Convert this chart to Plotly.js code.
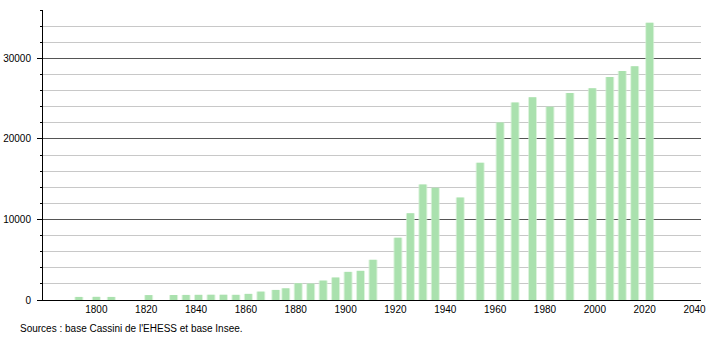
<!DOCTYPE html>
<html>
<head>
<meta charset="utf-8">
<script src="https://cdn.plot.ly/plotly-3.0.1.min.js"></script>
<style>
html,body{margin:0;padding:0;background:#fff;}
#chart{width:710px;height:340px;}
</style>
</head>
<body>
<div id="chart"></div>
<script>
const years = [1793,1800,1806,1821,1831,1836,1841,1846,1851,1856,1861,1866,1872,1876,1881,1886,1891,1896,1901,1906,1911,1921,1926,1931,1936,1946,1954,1962,1968,1975,1982,1990,1999,2006,2011,2016,2022];
const population = [380,390,380,610,620,630,640,650,650,640,760,1040,1250,1450,2080,2040,2410,2790,3490,3620,4990,7730,10770,14340,13930,12720,17050,22040,24530,25160,23990,25700,26280,27690,28440,29025,34430];
const xTicks = [1800,1820,1840,1860,1880,1900,1920,1940,1960,1980,2000,2020,2040];
const yTicks = [0,10000,20000,30000];
const sourceText = "Sources : base Cassini de l'EHESS et base Insee.";

const font = 'Liberation Sans, Arial, sans-serif';

const traces = [
  {
    type: 'bar',
    x: years,
    y: population,
    width: 3.6,
    marker: {color: 'rgba(205,238,205,0.7)', line: {width: 0}},
    hoverinfo: 'skip'
  },
  {
    type: 'bar',
    x: years,
    y: population,
    width: 2.8,
    marker: {color: 'rgb(170,225,174)', line: {width: 0}}
  }
];

const layout = {
  width: 710,
  height: 340,
  margin: {l: 43, r: 9, t: 10, b: 40},
  paper_bgcolor: '#fff',
  plot_bgcolor: '#fff',
  showlegend: false,
  barmode: 'overlay',
  font: {family: font, size: 10, color: '#000'},
  xaxis: {
    range: [1778.6, 2042.6],
    tickvals: xTicks,
    ticktext: xTicks.map(String),
    showgrid: false,
    zeroline: false,
    showline: true,
    linecolor: '#000',
    linewidth: 1,
    ticks: '',
    tickfont: {family: font, size: 10, color: '#000'},
    fixedrange: true
  },
  yaxis: {
    range: [0, 36000],
    tickvals: yTicks,
    ticktext: yTicks.map(String),
    showgrid: true,
    gridcolor: '#555',
    gridwidth: 1,
    zeroline: false,
    showline: true,
    linecolor: '#000',
    linewidth: 1,
    ticks: 'outside',
    ticklen: 5,
    tickcolor: '#000',
    ticklabelstandoff: 4,
    tickfont: {family: font, size: 10, color: '#000'},
    minor: {dtick: 2000, tick0: 0, showgrid: true, gridcolor: '#c8c8c8', gridwidth: 1, ticks: 'outside', ticklen: 2, tickcolor: '#000'},
    layer: 'below traces',
    fixedrange: true
  },
  annotations: [{
    text: sourceText,
    xref: 'paper', yref: 'paper',
    x: -0.038, y: -0.097,
    xanchor: 'left', yanchor: 'middle',
    showarrow: false,
    font: {family: font, size: 10, color: '#000'}
  }]
};

Plotly.newPlot('chart', traces, layout, {displayModeBar: false, staticPlot: true});
</script>
</body>
</html>
